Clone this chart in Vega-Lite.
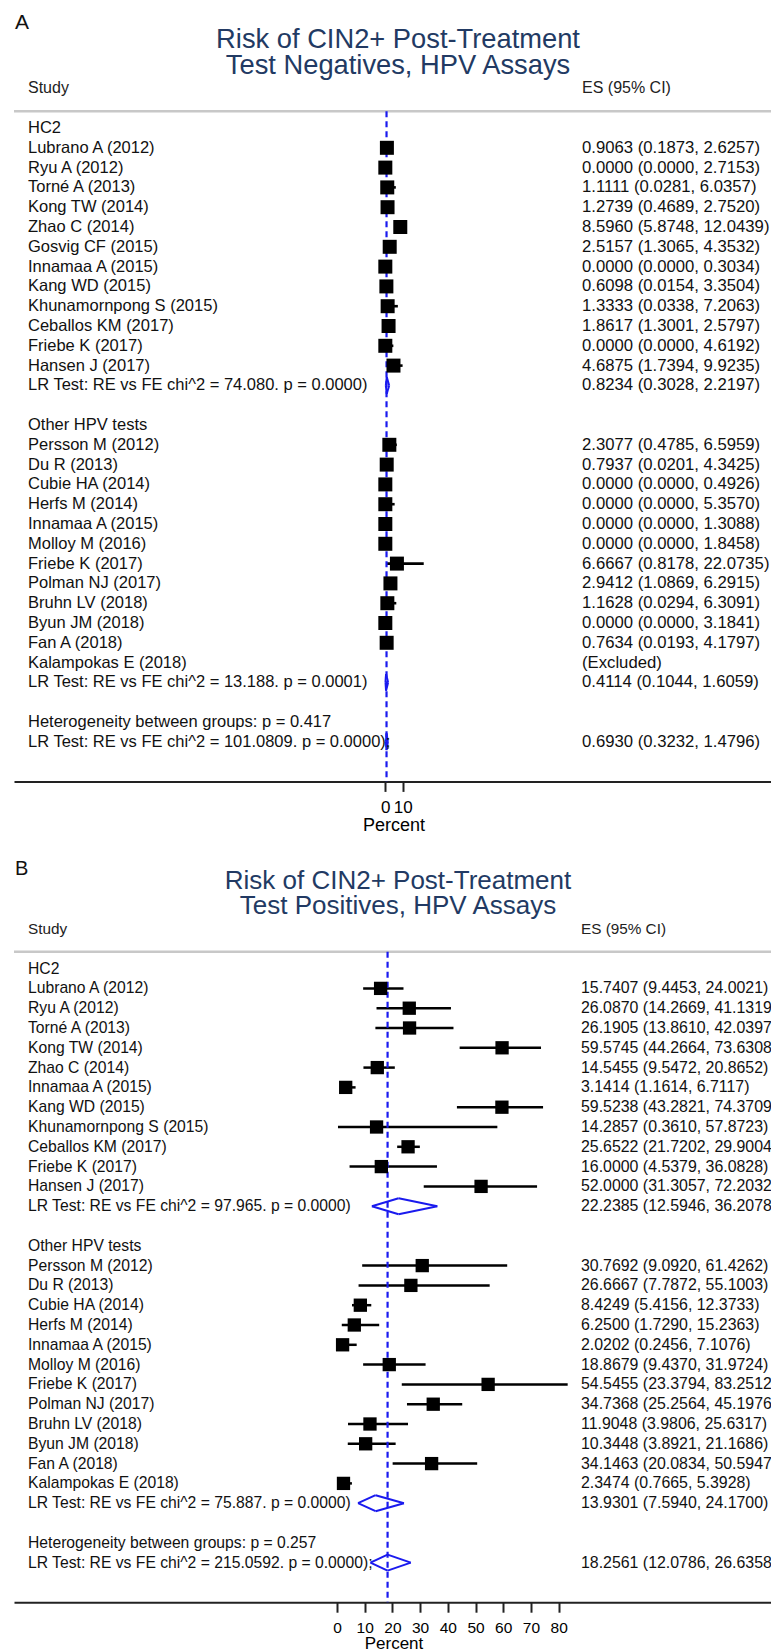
{
  "$schema": "https://vega.github.io/schema/vega-lite/v6.json",
  "padding": {"left": 12, "top": 0, "right": 0, "bottom": 0},
  "bounds": "flush",
  "spacing": 59,
  "config": {
    "view": {"stroke": null},
    "font": "Liberation Sans",
    "axis": {"domainColor": "#222", "domainWidth": 2, "tickColor": "#222", "tickWidth": 2, "tickSize": 10, "labelColor": "#000", "titleFontWeight": "normal", "titleColor": "#000", "grid": false, "labelOverlap": false, "labelFlush": false}
  },
  "datasets": {
    "neg": [
      {"row": 0, "label": "HC2", "type": "header"},
      {"row": 1, "label": "Lubrano A (2012)", "type": "study", "es": 0.9063, "lo": 0.1873, "hi": 2.6257, "ci": "0.9063 (0.1873, 2.6257)"},
      {"row": 2, "label": "Ryu A (2012)", "type": "study", "es": 0.0, "lo": 0.0, "hi": 2.7153, "ci": "0.0000 (0.0000, 2.7153)"},
      {"row": 3, "label": "Torné A (2013)", "type": "study", "es": 1.1111, "lo": 0.0281, "hi": 6.0357, "ci": "1.1111 (0.0281, 6.0357)"},
      {"row": 4, "label": "Kong TW (2014)", "type": "study", "es": 1.2739, "lo": 0.4689, "hi": 2.752, "ci": "1.2739 (0.4689, 2.7520)"},
      {"row": 5, "label": "Zhao C (2014)", "type": "study", "es": 8.596, "lo": 5.8748, "hi": 12.0439, "ci": "8.5960 (5.8748, 12.0439)"},
      {"row": 6, "label": "Gosvig CF (2015)", "type": "study", "es": 2.5157, "lo": 1.3065, "hi": 4.3532, "ci": "2.5157 (1.3065, 4.3532)"},
      {"row": 7, "label": "Innamaa A (2015)", "type": "study", "es": 0.0, "lo": 0.0, "hi": 0.3034, "ci": "0.0000 (0.0000, 0.3034)"},
      {"row": 8, "label": "Kang WD (2015)", "type": "study", "es": 0.6098, "lo": 0.0154, "hi": 3.3504, "ci": "0.6098 (0.0154, 3.3504)"},
      {"row": 9, "label": "Khunamornpong S (2015)", "type": "study", "es": 1.3333, "lo": 0.0338, "hi": 7.2063, "ci": "1.3333 (0.0338, 7.2063)"},
      {"row": 10, "label": "Ceballos KM (2017)", "type": "study", "es": 1.8617, "lo": 1.3001, "hi": 2.5797, "ci": "1.8617 (1.3001, 2.5797)"},
      {"row": 11, "label": "Friebe K (2017)", "type": "study", "es": 0.0, "lo": 0.0, "hi": 4.6192, "ci": "0.0000 (0.0000, 4.6192)"},
      {"row": 12, "label": "Hansen J (2017)", "type": "study", "es": 4.6875, "lo": 1.7394, "hi": 9.9235, "ci": "4.6875 (1.7394, 9.9235)"},
      {"row": 13, "label": "LR Test: RE vs FE chi^2 = 74.080. p = 0.0000)", "type": "pooled", "es": 0.8234, "lo": 0.3028, "hi": 2.2197, "ci": "0.8234 (0.3028, 2.2197)"},
      {"row": 15, "label": "Other HPV tests", "type": "header"},
      {"row": 16, "label": "Persson M (2012)", "type": "study", "es": 2.3077, "lo": 0.4785, "hi": 6.5959, "ci": "2.3077 (0.4785, 6.5959)"},
      {"row": 17, "label": "Du R (2013)", "type": "study", "es": 0.7937, "lo": 0.0201, "hi": 4.3425, "ci": "0.7937 (0.0201, 4.3425)"},
      {"row": 18, "label": "Cubie HA (2014)", "type": "study", "es": 0.0, "lo": 0.0, "hi": 0.4926, "ci": "0.0000 (0.0000, 0.4926)"},
      {"row": 19, "label": "Herfs M (2014)", "type": "study", "es": 0.0, "lo": 0.0, "hi": 5.357, "ci": "0.0000 (0.0000, 5.3570)"},
      {"row": 20, "label": "Innamaa A (2015)", "type": "study", "es": 0.0, "lo": 0.0, "hi": 1.3088, "ci": "0.0000 (0.0000, 1.3088)"},
      {"row": 21, "label": "Molloy M (2016)", "type": "study", "es": 0.0, "lo": 0.0, "hi": 1.8458, "ci": "0.0000 (0.0000, 1.8458)"},
      {"row": 22, "label": "Friebe K (2017)", "type": "study", "es": 6.6667, "lo": 0.8178, "hi": 22.0735, "ci": "6.6667 (0.8178, 22.0735)"},
      {"row": 23, "label": "Polman NJ (2017)", "type": "study", "es": 2.9412, "lo": 1.0869, "hi": 6.2915, "ci": "2.9412 (1.0869, 6.2915)"},
      {"row": 24, "label": "Bruhn LV (2018)", "type": "study", "es": 1.1628, "lo": 0.0294, "hi": 6.3091, "ci": "1.1628 (0.0294, 6.3091)"},
      {"row": 25, "label": "Byun JM (2018)", "type": "study", "es": 0.0, "lo": 0.0, "hi": 3.1841, "ci": "0.0000 (0.0000, 3.1841)"},
      {"row": 26, "label": "Fan A (2018)", "type": "study", "es": 0.7634, "lo": 0.0193, "hi": 4.1797, "ci": "0.7634 (0.0193, 4.1797)"},
      {"row": 27, "label": "Kalampokas E (2018)", "type": "excluded", "ci": "(Excluded)"},
      {"row": 28, "label": "LR Test: RE vs FE chi^2 = 13.188. p = 0.0001)", "type": "pooled", "es": 0.4114, "lo": 0.1044, "hi": 1.6059, "ci": "0.4114 (0.1044, 1.6059)"},
      {"row": 30, "label": "Heterogeneity between groups: p = 0.417", "type": "het"},
      {"row": 31, "label": "LR Test: RE vs FE chi^2 = 101.0809. p = 0.0000);", "type": "overall", "es": 0.693, "lo": 0.3232, "hi": 1.4796, "ci": "0.6930 (0.3232, 1.4796)"}
    ],
    "pos": [
      {"row": 0, "label": "HC2", "type": "header"},
      {"row": 1, "label": "Lubrano A (2012)", "type": "study", "es": 15.7407, "lo": 9.4453, "hi": 24.0021, "ci": "15.7407 (9.4453, 24.0021)"},
      {"row": 2, "label": "Ryu A (2012)", "type": "study", "es": 26.087, "lo": 14.2669, "hi": 41.1319, "ci": "26.0870 (14.2669, 41.1319)"},
      {"row": 3, "label": "Torné A (2013)", "type": "study", "es": 26.1905, "lo": 13.861, "hi": 42.0397, "ci": "26.1905 (13.8610, 42.0397)"},
      {"row": 4, "label": "Kong TW (2014)", "type": "study", "es": 59.5745, "lo": 44.2664, "hi": 73.6308, "ci": "59.5745 (44.2664, 73.6308)"},
      {"row": 5, "label": "Zhao C (2014)", "type": "study", "es": 14.5455, "lo": 9.5472, "hi": 20.8652, "ci": "14.5455 (9.5472, 20.8652)"},
      {"row": 6, "label": "Innamaa A (2015)", "type": "study", "es": 3.1414, "lo": 1.1614, "hi": 6.7117, "ci": "3.1414 (1.1614, 6.7117)"},
      {"row": 7, "label": "Kang WD (2015)", "type": "study", "es": 59.5238, "lo": 43.2821, "hi": 74.3709, "ci": "59.5238 (43.2821, 74.3709)"},
      {"row": 8, "label": "Khunamornpong S (2015)", "type": "study", "es": 14.2857, "lo": 0.361, "hi": 57.8723, "ci": "14.2857 (0.3610, 57.8723)"},
      {"row": 9, "label": "Ceballos KM (2017)", "type": "study", "es": 25.6522, "lo": 21.7202, "hi": 29.9004, "ci": "25.6522 (21.7202, 29.9004)"},
      {"row": 10, "label": "Friebe K (2017)", "type": "study", "es": 16.0, "lo": 4.5379, "hi": 36.0828, "ci": "16.0000 (4.5379, 36.0828)"},
      {"row": 11, "label": "Hansen J (2017)", "type": "study", "es": 52.0, "lo": 31.3057, "hi": 72.2032, "ci": "52.0000 (31.3057, 72.2032)"},
      {"row": 12, "label": "LR Test: RE vs FE chi^2 = 97.965. p = 0.0000)", "type": "pooled", "es": 22.2385, "lo": 12.5946, "hi": 36.2078, "ci": "22.2385 (12.5946, 36.2078)"},
      {"row": 14, "label": "Other HPV tests", "type": "header"},
      {"row": 15, "label": "Persson M (2012)", "type": "study", "es": 30.7692, "lo": 9.092, "hi": 61.4262, "ci": "30.7692 (9.0920, 61.4262)"},
      {"row": 16, "label": "Du R (2013)", "type": "study", "es": 26.6667, "lo": 7.7872, "hi": 55.1003, "ci": "26.6667 (7.7872, 55.1003)"},
      {"row": 17, "label": "Cubie HA (2014)", "type": "study", "es": 8.4249, "lo": 5.4156, "hi": 12.3733, "ci": "8.4249 (5.4156, 12.3733)"},
      {"row": 18, "label": "Herfs M (2014)", "type": "study", "es": 6.25, "lo": 1.729, "hi": 15.2363, "ci": "6.2500 (1.7290, 15.2363)"},
      {"row": 19, "label": "Innamaa A (2015)", "type": "study", "es": 2.0202, "lo": 0.2456, "hi": 7.1076, "ci": "2.0202 (0.2456, 7.1076)"},
      {"row": 20, "label": "Molloy M (2016)", "type": "study", "es": 18.8679, "lo": 9.437, "hi": 31.9724, "ci": "18.8679 (9.4370, 31.9724)"},
      {"row": 21, "label": "Friebe K (2017)", "type": "study", "es": 54.5455, "lo": 23.3794, "hi": 83.2512, "ci": "54.5455 (23.3794, 83.2512)"},
      {"row": 22, "label": "Polman NJ (2017)", "type": "study", "es": 34.7368, "lo": 25.2564, "hi": 45.1976, "ci": "34.7368 (25.2564, 45.1976)"},
      {"row": 23, "label": "Bruhn LV (2018)", "type": "study", "es": 11.9048, "lo": 3.9806, "hi": 25.6317, "ci": "11.9048 (3.9806, 25.6317)"},
      {"row": 24, "label": "Byun JM (2018)", "type": "study", "es": 10.3448, "lo": 3.8921, "hi": 21.1686, "ci": "10.3448 (3.8921, 21.1686)"},
      {"row": 25, "label": "Fan A (2018)", "type": "study", "es": 34.1463, "lo": 20.0834, "hi": 50.5947, "ci": "34.1463 (20.0834, 50.5947)"},
      {"row": 26, "label": "Kalampokas E (2018)", "type": "study", "es": 2.3474, "lo": 0.7665, "hi": 5.3928, "ci": "2.3474 (0.7665, 5.3928)"},
      {"row": 27, "label": "LR Test: RE vs FE chi^2 = 75.887. p = 0.0000)", "type": "pooled", "es": 13.9301, "lo": 7.594, "hi": 24.17, "ci": "13.9301 (7.5940, 24.1700)"},
      {"row": 29, "label": "Heterogeneity between groups: p = 0.257", "type": "het"},
      {"row": 30, "label": "LR Test: RE vs FE chi^2 = 215.0592. p = 0.0000);", "type": "overall", "es": 18.2561, "lo": 12.0786, "hi": 26.6358, "ci": "18.2561 (12.0786, 26.6358)"}
    ]
  },
  "vconcat": [
    {
      "width": 759,
      "height": 781.4,
      "data": {"name": "neg"},
      "layer": [
        {"transform": [{"filter": "datum.type === 'study'"}],
         "mark": {"type": "rule", "color": "#000", "strokeWidth": 2.6},
         "encoding": {"x": {"field": "lo", "type": "quantitative", "scale": {"domain": [-213.4, 222.8], "nice": false, "zero": false}, "axis": {"values": [0, 10], "title": "Percent", "labelFontSize": 17, "titleFontSize": 18, "labelPadding": 8, "titlePadding": 1}}, "x2": {"field": "hi"},
                      "y": {"field": "row", "type": "quantitative", "scale": {"domain": [-6.465, 33], "reverse": true, "nice": false, "zero": false}, "axis": null}}},
        {"transform": [{"filter": "datum.row === 0"}],
         "mark": {"type": "rule", "color": "#c8c8c8", "strokeWidth": 2.5},
         "encoding": {"y": {"datum": -0.85}}},
        {"transform": [{"filter": "datum.type === 'overall'"}],
         "mark": {"type": "rule", "color": "#1a1aee", "strokeWidth": 2.2, "strokeDash": [6, 4]},
         "encoding": {"x": {"field": "es", "type": "quantitative"}, "y": {"datum": -0.85}, "y2": {"datum": 33}}},
        {"transform": [{"filter": "datum.type === 'study'"}],
         "mark": {"type": "point", "shape": "square", "filled": true, "color": "#000", "opacity": 1, "size": 196},
         "encoding": {"x": {"field": "es", "type": "quantitative"}, "y": {"field": "row", "type": "quantitative"}}},
        {"transform": [{"filter": "datum.type === 'pooled' || datum.type === 'overall'"}],
         "mark": {"type": "rule", "color": "#1a1aee", "strokeWidth": 2, "y2Offset": -8.4},
         "encoding": {"x": {"field": "lo", "type": "quantitative"}, "x2": {"field": "es"}, "y": {"field": "row", "type": "quantitative"}, "y2": {"field": "row"}}},
        {"transform": [{"filter": "datum.type === 'pooled' || datum.type === 'overall'"}],
         "mark": {"type": "rule", "color": "#1a1aee", "strokeWidth": 2, "yOffset": -8.4},
         "encoding": {"x": {"field": "es", "type": "quantitative"}, "x2": {"field": "hi"}, "y": {"field": "row", "type": "quantitative"}, "y2": {"field": "row"}}},
        {"transform": [{"filter": "datum.type === 'pooled' || datum.type === 'overall'"}],
         "mark": {"type": "rule", "color": "#1a1aee", "strokeWidth": 2, "y2Offset": 8.4},
         "encoding": {"x": {"field": "hi", "type": "quantitative"}, "x2": {"field": "es"}, "y": {"field": "row", "type": "quantitative"}, "y2": {"field": "row"}}},
        {"transform": [{"filter": "datum.type === 'pooled' || datum.type === 'overall'"}],
         "mark": {"type": "rule", "color": "#1a1aee", "strokeWidth": 2, "yOffset": 8.4},
         "encoding": {"x": {"field": "es", "type": "quantitative"}, "x2": {"field": "lo"}, "y": {"field": "row", "type": "quantitative"}, "y2": {"field": "row"}}},
        {"mark": {"type": "text", "align": "left", "baseline": "middle", "fontSize": 16.5, "color": "#111"},
         "encoding": {"x": {"datum": -205.35}, "y": {"field": "row", "type": "quantitative"}, "text": {"field": "label"}}},
        {"transform": [{"filter": "datum.ci != null"}],
         "mark": {"type": "text", "align": "left", "baseline": "middle", "fontSize": 16.7, "color": "#111", "clip": true},
         "encoding": {"x": {"datum": 113.04}, "y": {"field": "row", "type": "quantitative"}, "text": {"field": "ci"}}},
        {"transform": [{"filter": "datum.row === 0"}],
         "mark": {"type": "text", "align": "left", "baseline": "middle", "fontSize": 16, "color": "#222", "text": "Study"},
         "encoding": {"x": {"datum": -205.35}, "y": {"datum": -2}}},
        {"transform": [{"filter": "datum.row === 0"}],
         "mark": {"type": "text", "align": "left", "baseline": "middle", "fontSize": 16, "color": "#222", "text": "ES (95% CI)"},
         "encoding": {"x": {"datum": 113.04}, "y": {"datum": -2}}},
        {"transform": [{"filter": "datum.row === 0"}],
         "mark": {"type": "text", "align": "center", "baseline": "alphabetic", "fontSize": 27.3, "lineHeight": 26, "color": "#223a63", "text": ["Risk of CIN2+ Post-Treatment", "Test Negatives, HPV Assays"]},
         "encoding": {"x": {"datum": 7.3}, "y": {"datum": -4.04}}},
        {"transform": [{"filter": "datum.row === 0"}],
         "mark": {"type": "text", "align": "left", "baseline": "middle", "fontSize": 21, "color": "#111", "text": "A"},
         "encoding": {"x": {"datum": -212.8}, "y": {"datum": -5.32}}}
      ]
    },
    {
      "width": 759,
      "height": 761.2,
      "data": {"name": "pos"},
      "layer": [
        {"transform": [{"filter": "datum.type === 'study'"}],
         "mark": {"type": "rule", "color": "#000", "strokeWidth": 2.5},
         "encoding": {"x": {"field": "lo", "type": "quantitative", "scale": {"domain": [-116.56, 157.35], "nice": false, "zero": false}, "axis": {"values": [0, 10, 20, 30, 40, 50, 60, 70, 80], "title": "Percent", "labelFontSize": 15.5, "titleFontSize": 17, "labelPadding": 8, "titlePadding": 0}}, "x2": {"field": "hi"},
                      "y": {"field": "row", "type": "quantitative", "scale": {"domain": [-6.444, 32], "reverse": true, "nice": false, "zero": false}, "axis": null}}},
        {"transform": [{"filter": "datum.row === 0"}],
         "mark": {"type": "rule", "color": "#c8c8c8", "strokeWidth": 2.5},
         "encoding": {"y": {"datum": -0.85}}},
        {"transform": [{"filter": "datum.type === 'overall'"}],
         "mark": {"type": "rule", "color": "#1a1aee", "strokeWidth": 2.2, "strokeDash": [6, 4]},
         "encoding": {"x": {"field": "es", "type": "quantitative"}, "y": {"datum": -0.85}, "y2": {"datum": 32}}},
        {"transform": [{"filter": "datum.type === 'study'"}],
         "mark": {"type": "point", "shape": "square", "filled": true, "color": "#000", "opacity": 1, "size": 177},
         "encoding": {"x": {"field": "es", "type": "quantitative"}, "y": {"field": "row", "type": "quantitative"}}},
        {"transform": [{"filter": "datum.type === 'pooled' || datum.type === 'overall'"}],
         "mark": {"type": "rule", "color": "#1a1aee", "strokeWidth": 2, "y2Offset": -8},
         "encoding": {"x": {"field": "lo", "type": "quantitative"}, "x2": {"field": "es"}, "y": {"field": "row", "type": "quantitative"}, "y2": {"field": "row"}}},
        {"transform": [{"filter": "datum.type === 'pooled' || datum.type === 'overall'"}],
         "mark": {"type": "rule", "color": "#1a1aee", "strokeWidth": 2, "yOffset": -8},
         "encoding": {"x": {"field": "es", "type": "quantitative"}, "x2": {"field": "hi"}, "y": {"field": "row", "type": "quantitative"}, "y2": {"field": "row"}}},
        {"transform": [{"filter": "datum.type === 'pooled' || datum.type === 'overall'"}],
         "mark": {"type": "rule", "color": "#1a1aee", "strokeWidth": 2, "y2Offset": 8},
         "encoding": {"x": {"field": "hi", "type": "quantitative"}, "x2": {"field": "es"}, "y": {"field": "row", "type": "quantitative"}, "y2": {"field": "row"}}},
        {"transform": [{"filter": "datum.type === 'pooled' || datum.type === 'overall'"}],
         "mark": {"type": "rule", "color": "#1a1aee", "strokeWidth": 2, "yOffset": 8},
         "encoding": {"x": {"field": "es", "type": "quantitative"}, "x2": {"field": "lo"}, "y": {"field": "row", "type": "quantitative"}, "y2": {"field": "row"}}},
        {"mark": {"type": "text", "align": "left", "baseline": "middle", "fontSize": 15.7, "color": "#111"},
         "encoding": {"x": {"datum": -111.51}, "y": {"field": "row", "type": "quantitative"}, "text": {"field": "label"}}},
        {"transform": [{"filter": "datum.ci != null"}],
         "mark": {"type": "text", "align": "left", "baseline": "middle", "fontSize": 15.9, "color": "#111", "clip": true},
         "encoding": {"x": {"datum": 88.06}, "y": {"field": "row", "type": "quantitative"}, "text": {"field": "ci"}}},
        {"transform": [{"filter": "datum.row === 0"}],
         "mark": {"type": "text", "align": "left", "baseline": "middle", "fontSize": 15.3, "color": "#222", "text": "Study"},
         "encoding": {"x": {"datum": -111.51}, "y": {"datum": -2}}},
        {"transform": [{"filter": "datum.row === 0"}],
         "mark": {"type": "text", "align": "left", "baseline": "middle", "fontSize": 15.3, "color": "#222", "text": "ES (95% CI)"},
         "encoding": {"x": {"datum": 88.06}, "y": {"datum": -2}}},
        {"transform": [{"filter": "datum.row === 0"}],
         "mark": {"type": "text", "align": "center", "baseline": "alphabetic", "fontSize": 26, "lineHeight": 25, "color": "#223a63", "text": ["Risk of CIN2+ Post-Treatment", "Test Positives, HPV Assays"]},
         "encoding": {"x": {"datum": 22.02}, "y": {"datum": -4.04}}},
        {"transform": [{"filter": "datum.row === 0"}],
         "mark": {"type": "text", "align": "left", "baseline": "middle", "fontSize": 20, "color": "#111", "text": "B"},
         "encoding": {"x": {"datum": -116.2}, "y": {"datum": -5.05}}}
      ]
    }
  ]
}
